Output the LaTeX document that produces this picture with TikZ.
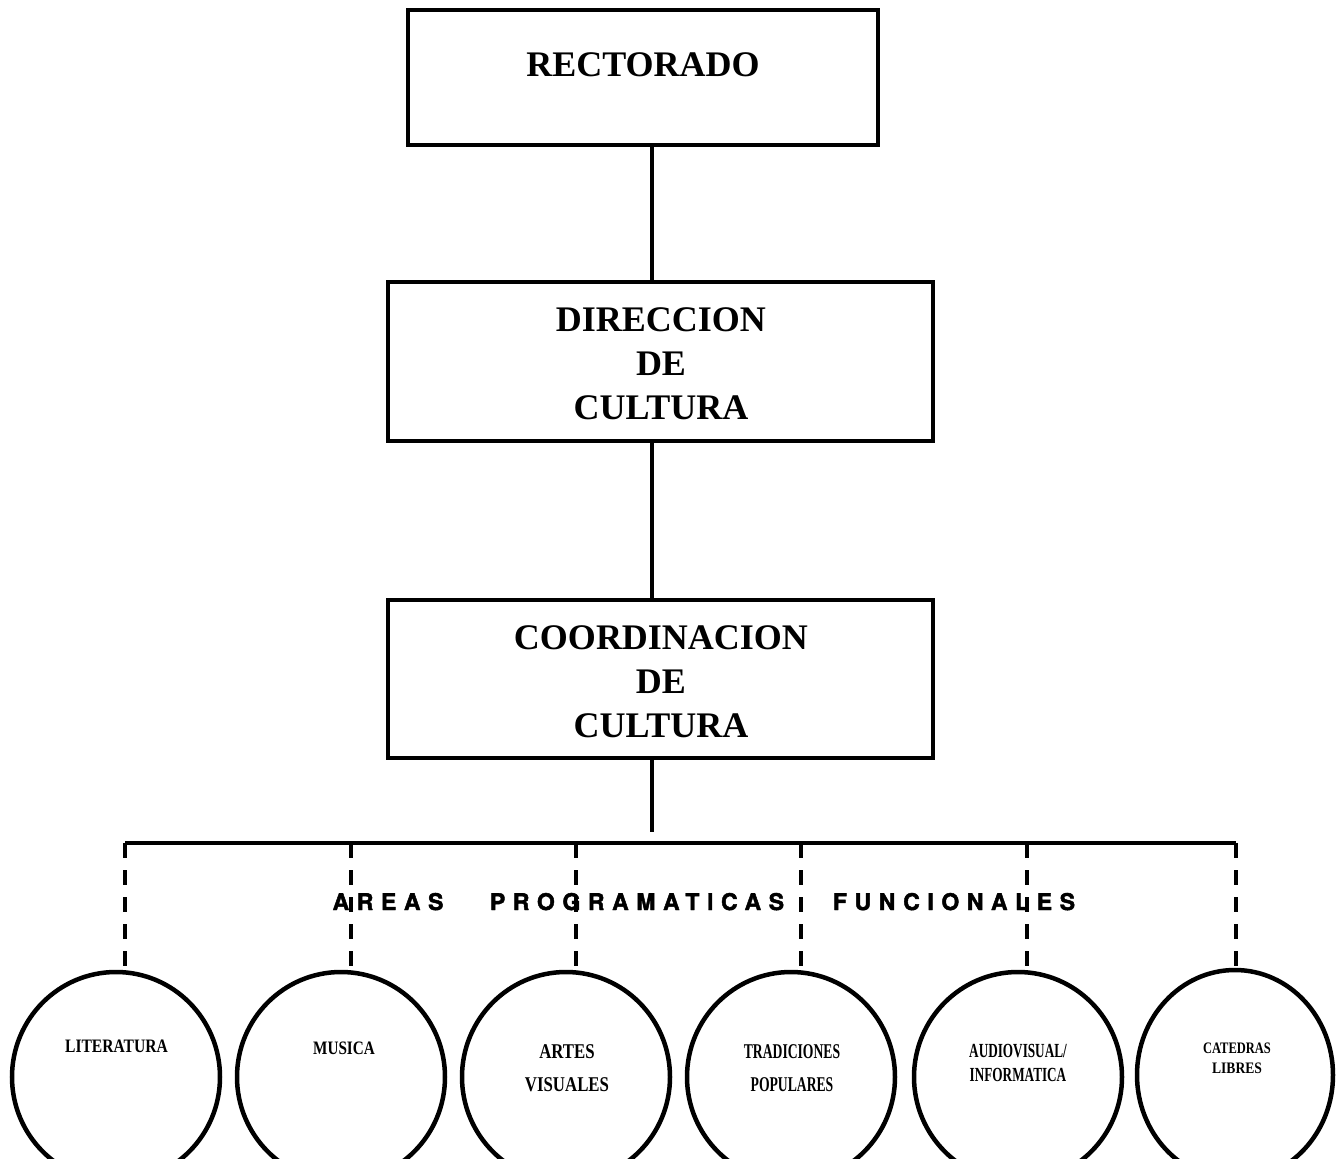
\documentclass[tikz,border=0pt]{standalone}
\usepackage{fontspec}
\usepackage{graphicx}
\setmainfont{Liberation Serif}
\newfontfamily\labfont[LetterSpace=33, FakeBold=2]{TeX Gyre Heros}
\usetikzlibrary{shapes.geometric}
\newcommand{\sqz}[2]{\scalebox{#1}[1]{#2}}
\tikzset{
  box/.style={draw, line width=4.5pt, rectangle, inner sep=0pt},
  boxtext/.style={font=\fontsize{36}{44}\selectfont\bfseries, align=center, inner sep=0pt},
  conn/.style={line width=3.5pt},
  dashconn/.style={line width=4pt, dash pattern=on 15pt off 12pt},
  area/.style={draw, ellipse, line width=4.5pt, inner sep=0pt},
  ctext/.style={inner sep=0pt, align=center},
  lab/.style={font=\fontsize{23}{23}\selectfont\labfont\bfseries, inner sep=0pt, anchor=base}
}
\begin{document}
\begin{tikzpicture}[x=1pt,y=-1pt]
\useasboundingbox (0,0) rectangle (1339,1159);
\clip (0,0) rectangle (1339,1159);

% boxes
\node[box, minimum width=470pt, minimum height=135pt] (rect) at (643,77.5) {};
\node[boxtext] (recttxt) at (643,65) {RECTORADO};
\node[box, minimum width=545pt, minimum height=159pt] (dir) at (660.5,361.5) {};
\node[boxtext] (dirtxt) at (661,363.5) {DIRECCION\\DE\\CULTURA};
\node[box, minimum width=545pt, minimum height=158pt] (coord) at (660.5,679) {};
\node[boxtext] (coordtxt) at (661,682) {COORDINACION\\DE\\CULTURA};

% spine coordinates
\coordinate (spine) at (652,0);
\coordinate (spineend) at (652,832);
\coordinate (barL) at (125,843);
\coordinate (barR) at (1236,843);

\draw[conn] (rect.south -| spine) -- (dir.north -| spine);
\draw[conn] (dir.south -| spine) -- (coord.north -| spine);
\draw[conn] (coord.south -| spine) -- (spineend);
\draw[line width=4pt] (barL) -- (barR);

% circles
\node[area, minimum width=208pt, minimum height=210pt] (lit) at (116,1077) {};
\node[area, minimum width=208pt, minimum height=210pt] (mus) at (341,1077) {};
\node[area, minimum width=208pt, minimum height=210pt] (art) at (566,1077) {};
\node[area, minimum width=208pt, minimum height=210pt] (tra) at (791,1077) {};
\node[area, minimum width=208pt, minimum height=210pt] (aud) at (1018,1077) {};
\node[area, minimum width=196pt, minimum height=210pt] (cat) at (1235,1075) {};

% dashed connectors
\coordinate (d1) at (125,966);
\coordinate (d2) at (351,966);
\coordinate (d3) at (576,966);
\coordinate (d4) at (801,966);
\coordinate (d5) at (1027,966);
\coordinate (d6) at (1236,966);
\draw[dashconn] (barL) -- (d1);
\draw[dashconn] (barL -| d2) -- (d2);
\draw[dashconn] (barL -| d3) -- (d3);
\draw[dashconn] (barL -| d4) -- (d4);
\draw[dashconn] (barL -| d5) -- (d5);
\draw[dashconn] (barR) -- (d6);

% label
\node[lab] (w1) at (388,910) {AREAS};
\node[lab] (w2) at (637,910) {PROGRAMATICAS};
\node[lab] (w3) at (954,910) {FUNCIONALES};

% circle texts
\node[ctext, font=\fontsize{19}{19}\selectfont\bfseries] (littxt) at (116.5,1046) {\sqz{0.82}{LITERATURA}};
\node[ctext, font=\fontsize{19}{19}\selectfont\bfseries] (mustxt) at (344,1048) {\sqz{0.80}{MUSICA}};
\node[ctext, font=\fontsize{21}{33}\selectfont\bfseries] (arttxt) at (567,1068.5) {\sqz{0.80}{ARTES}\\\sqz{0.80}{VISUALES}};
\node[ctext, font=\fontsize{21}{33}\selectfont\bfseries] (tratxt) at (792,1068.5) {\sqz{0.65}{TRADICIONES}\\\sqz{0.65}{POPULARES}};
\node[ctext, font=\fontsize{20}{24}\selectfont\bfseries] (audtxt) at (1018,1062.5) {\sqz{0.66}{AUDIOVISUAL/}\\\sqz{0.66}{INFORMATICA}};
\node[ctext, font=\fontsize{16}{20}\selectfont\bfseries] (cattxt) at (1237,1058) {\sqz{0.78}{CATEDRAS}\\\sqz{0.85}{LIBRES}};
\end{tikzpicture}
\end{document}
